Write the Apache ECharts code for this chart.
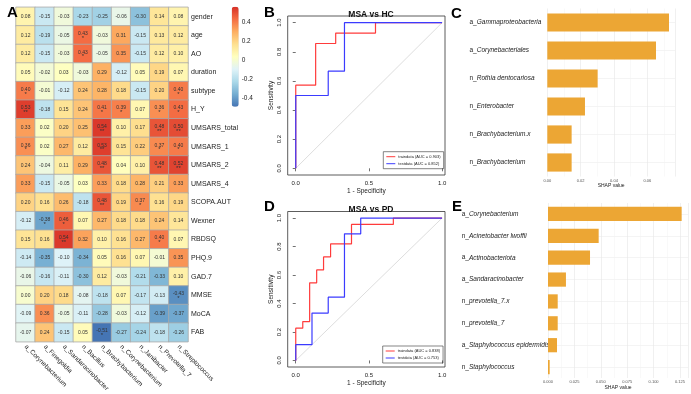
<!DOCTYPE html>
<html>
<head>
<meta charset="utf-8">
<script src="https://cdn.jsdelivr.net/npm/echarts@6/dist/echarts.min.js"></script>
<style>
html, body { margin: 0; padding: 0; background: #fff; }
#chart { width: 691px; height: 394px; }
</style>
</head>
<body>
<div id="chart"></div>
<script>
// panel A: correlation heatmap
const taxa = ["a_Corynebacterium", "a_Finegoldia", "a_Sandaracinobacter", "n_Bacillus", "n_Brachybacterium",
  "n_Corynebacterium", "n_Janibacter", "n_Prevotella_7", "n_Streptococcus"];
const clinical = ["gender", "age", "AO", "duration", "subtype", "H_Y", "UMSARS_total", "UMSARS_1", "UMSARS_2",
  "UMSARS_4", "SCOPA.AUT", "Wexner", "RBDSQ", "PHQ.9", "GAD.7", "MMSE", "MoCA", "FAB"];
const corr = [
  [0.08, -0.15, -0.03, -0.23, -0.25, -0.06, -0.30, 0.14, 0.08],
  [0.12, -0.19, -0.05, 0.43, -0.03, 0.31, -0.15, 0.13, 0.12],
  [0.12, -0.15, -0.03, 0.43, -0.05, 0.35, -0.15, 0.12, 0.10],
  [0.05, -0.02, 0.03, -0.03, 0.29, -0.12, 0.05, 0.19, 0.07],
  [0.40, -0.01, -0.12, 0.24, 0.28, 0.18, -0.15, 0.20, 0.40],
  [0.53, -0.18, 0.15, 0.24, 0.41, 0.39, 0.07, 0.36, 0.43],
  [0.33, 0.02, 0.20, 0.25, 0.54, 0.10, 0.17, 0.48, 0.50],
  [0.36, 0.02, 0.27, 0.12, 0.53, 0.15, 0.22, 0.37, 0.40],
  [0.24, -0.04, 0.11, 0.29, 0.48, 0.04, 0.10, 0.48, 0.52],
  [0.33, -0.15, -0.05, 0.03, 0.33, 0.18, 0.28, 0.21, 0.33],
  [0.20, 0.16, 0.26, -0.18, 0.48, 0.19, 0.37, 0.16, 0.19],
  [-0.12, -0.38, 0.46, 0.07, 0.27, 0.18, 0.18, 0.24, 0.14],
  [0.15, 0.16, 0.54, 0.32, 0.10, 0.16, 0.27, 0.40, 0.07],
  [-0.14, -0.35, -0.10, -0.34, 0.05, 0.16, 0.07, -0.01, 0.35],
  [-0.06, -0.16, -0.11, -0.30, 0.12, -0.03, -0.21, -0.33, 0.10],
  [0.00, 0.20, 0.18, -0.08, -0.18, 0.07, -0.17, -0.13, -0.43],
  [-0.09, 0.36, -0.05, -0.11, -0.28, -0.03, -0.12, -0.39, -0.37],
  [-0.07, 0.24, -0.15, 0.05, -0.51, -0.27, -0.24, -0.18, -0.26]
];
const sig = [
  ["", "", "", "", "", "", "", "", ""],
  ["", "", "", "*", "", "", "", "", ""],
  ["", "", "", "*", "", "", "", "", ""],
  ["", "", "", "", "", "", "", "", ""],
  ["*", "", "", "", "", "", "", "", "*"],
  ["**", "", "", "", "*", "*", "", "*", "*"],
  ["", "", "", "", "**", "", "", "**", "**"],
  ["*", "", "", "", "**", "", "", "*", "*"],
  ["", "", "", "", "**", "", "", "**", "**"],
  ["", "", "", "", "", "", "", "", ""],
  ["", "", "", "", "**", "", "*", "", ""],
  ["", "*", "*", "", "", "", "", "", ""],
  ["", "", "**", "", "", "", "", "*", ""],
  ["", "", "", "", "", "", "", "", ""],
  ["", "", "", "", "", "", "", "", ""],
  ["", "", "", "", "", "", "", "", "*"],
  ["", "", "", "", "", "", "", "", ""],
  ["", "", "", "", "*", "", "", "", ""]
];
const colorbarTicks = [-0.4, -0.2, 0, 0.2, 0.4];

// panels B / D: ROC curves (1 - specificity, sensitivity)
const hcTrainFpr = [0, 0, 0.136, 0.273, 0.545, 1];
const hcTrainTpr = [0, 0.571, 0.857, 0.929, 1, 1];
const hcTestFpr = [0, 0, 0.222, 0.333, 1];
const hcTestTpr = [0, 0.5, 0.667, 1, 1];
const pdTrainFpr = [0, 0, 0.048, 0.095, 0.143, 0.190, 0.238, 0.381, 0.667, 1];
const pdTrainTpr = [0, 0.227, 0.273, 0.545, 0.636, 0.727, 0.818, 0.955, 1, 1];
const pdTestFpr = [0, 0, 0.111, 0.222, 0.333, 0.444, 1];
const pdTestTpr = [0, 0.111, 0.333, 0.444, 0.889, 1, 1];
const rocNames = ["traindata (AUC = 0.903)", "testdata (AUC = 0.852)", "traindata (AUC = 0.838)", "testdata (AUC = 0.753)"];
const rocXTicks = [0, 0.5, 1];
const rocYTicks = [0, 0.2, 0.4, 0.6, 0.8, 1];

// panels C / E: SHAP importance
const shapHcNames = ["a_Gammaproteobacteria", "a_Corynebacteriales", "n_Rothia dentocariosa", "n_Enterobacter",
  "n_Brachybacterium.x", "n_Brachybacterium"];
const shapHcValues = [0.0730, 0.0652, 0.0302, 0.0226, 0.0146, 0.0146];
const shapPdNames = ["a_Corynebacterium", "n_Acinetobacter lwoffii", "a_Actinobacteriota", "a_Sandaracinobacter",
  "n_prevotella_7.x", "n_prevotella_7", "a_Staphylococcus epidermidis", "n_Staphylococcus"];
const shapPdValues = [0.1266, 0.0480, 0.0398, 0.0170, 0.0092, 0.0092, 0.0085, 0.0016];

const chart = echarts.init(document.getElementById("chart"));
const FONT = "Liberation Sans, Arial, sans-serif";
const RED = "#ff3b3b";
const BLUE = "#3b3bff";
const BAR = "#eca634";

const heatData = [];
corr.forEach((row, r) => row.forEach((v, c) => heatData.push([c, r, v])));

const zip = (xs, ys) => xs.map((x, i) => [x, ys[i]]);

function rocXAxis(gridIndex) {
  return {
    gridIndex, type: "value", min: -0.055, max: 1.02,
    name: "1 - Specificity", nameLocation: "middle", nameGap: 13,
    nameTextStyle: { fontSize: 6.5, color: "#222" },
    axisLine: { show: false },
    axisTick: { show: true, length: 3, customValues: rocXTicks, lineStyle: { color: "#333", width: 0.7 } },
    axisLabel: { customValues: rocXTicks, fontSize: 6, color: "#222", margin: 5, formatter: v => v.toFixed(1) },
    splitLine: { show: false }
  };
}
function rocYAxis(gridIndex) {
  return {
    gridIndex, type: "value", min: -0.046, max: 1.046,
    name: "Sensitivity", nameLocation: "middle", nameGap: 13,
    nameTextStyle: { fontSize: 6.5, color: "#222" },
    axisLine: { show: false },
    axisTick: { show: true, length: 3, customValues: rocYTicks, lineStyle: { color: "#333", width: 0.7 } },
    axisLabel: { customValues: rocYTicks, fontSize: 6, color: "#222", margin: 5, rotate: 90, formatter: v => v.toFixed(1) },
    splitLine: { show: false }
  };
}
function rocSeries(axisIndex, names, trainPts, testPts) {
  return [
    { type: "line", xAxisIndex: axisIndex, yAxisIndex: axisIndex, data: [[0, 0], [1, 1]], symbol: "none",
      silent: true, lineStyle: { color: "#d4d4d4", width: 0.8 } },
    { name: names[0], type: "line", xAxisIndex: axisIndex, yAxisIndex: axisIndex, data: trainPts, step: "end",
      symbol: "none", color: RED, lineStyle: { color: RED, width: 1.2 } },
    { name: names[1], type: "line", xAxisIndex: axisIndex, yAxisIndex: axisIndex, data: testPts, step: "end",
      symbol: "none", color: BLUE, lineStyle: { color: BLUE, width: 1.2 } }
  ];
}
function rocLegend(names, left, top) {
  return {
    data: names, left, top, orient: "vertical", padding: [3, 3, 3, 3], itemGap: 3,
    icon: "rect", itemWidth: 9, itemHeight: 1, borderColor: "#333", borderWidth: 0.6,
    textStyle: { fontSize: 4, color: "#222", padding: [0, 0, 0, -2] }, selectedMode: false
  };
}
function taxonLabel(name) {
  const i = name.indexOf("_");
  return "{p|" + name.slice(0, i + 1) + "}{i|" + name.slice(i + 1) + "}";
}
function shapYAxis(gridIndex, names, margin, size) {
  return {
    gridIndex, type: "category", data: names, inverse: true,
    axisLine: { show: false }, axisTick: { show: false, alignWithLabel: true },
    axisLabel: {
      align: "left", margin, formatter: taxonLabel,
      rich: { p: { fontSize: size, color: "#222" }, i: { fontSize: size, color: "#222", fontStyle: "italic" } }
    },
    splitLine: { show: true, alignWithLabel: true, lineStyle: { color: "#ececec", width: 0.6 } }
  };
}
function shapXAxis(gridIndex, max, interval, digits) {
  return {
    gridIndex, type: "value", min: 0, max, interval,
    name: "SHAP value", nameLocation: "middle", nameGap: 7,
    nameTextStyle: { fontSize: 5, color: "#222" },
    axisLine: { show: false }, axisTick: { show: false },
    axisLabel: { fontSize: 4, color: "#555", margin: 2, showMaxLabel: false, formatter: v => v.toFixed(digits) },
    splitLine: { show: true, lineStyle: { color: "#e6e6e6", width: 0.6 } },
    minorTick: { show: false, splitNumber: 2 },
    minorSplitLine: { show: true, lineStyle: { color: "#f2f2f2", width: 0.5 } }
  };
}

const option = {
  animation: false,
  backgroundColor: "#fff",
  textStyle: { fontFamily: FONT },
  title: [
    { text: "A", left: 2, top: 0, textStyle: { fontSize: 15, fontWeight: "bold", color: "#000" } },
    { text: "B", left: 259, top: 0, textStyle: { fontSize: 15, fontWeight: "bold", color: "#000" } },
    { text: "C", left: 446, top: 1, textStyle: { fontSize: 15, fontWeight: "bold", color: "#000" } },
    { text: "D", left: 259, top: 194, textStyle: { fontSize: 15, fontWeight: "bold", color: "#000" } },
    { text: "E", left: 447, top: 194, textStyle: { fontSize: 15, fontWeight: "bold", color: "#000" } },
    { text: "MSA vs HC", left: 366, top: 5, textAlign: "center", textStyle: { fontSize: 8.5, fontWeight: "bold", color: "#111" } },
    { text: "MSA vs PD", left: 366, top: 200, textAlign: "center", textStyle: { fontSize: 8.5, fontWeight: "bold", color: "#111" } }
  ],
  grid: [
    { left: 16, top: 7.3, width: 172, height: 334.4 },
    { left: 287.7, top: 16, width: 157.3, height: 159, show: true, borderColor: "#333", borderWidth: 0.8, backgroundColor: "transparent" },
    { left: 287.7, top: 211.5, width: 157.3, height: 155.5, show: true, borderColor: "#333", borderWidth: 0.8, backgroundColor: "transparent" },
    { left: 547.3, top: 8.5, width: 127.7, height: 168 },
    { left: 548, top: 203, width: 140, height: 175 },
    { left: 231.7, top: 6.7, width: 7, height: 100 }
  ],
  xAxis: [
    {
      gridIndex: 0, type: "category", data: taxa, position: "bottom",
      axisLine: { show: false }, axisTick: { show: false }, splitLine: { show: false },
      axisLabel: { rotate: -45, fontSize: 6.5, color: "#222", margin: 4, interval: 0 }
    },
    rocXAxis(1),
    rocXAxis(2),
    shapXAxis(3, 0.0766, 0.02, 2),
    shapXAxis(4, 0.1326, 0.025, 3),
    { gridIndex: 5, type: "value", show: false }
  ],
  yAxis: [
    {
      gridIndex: 0, type: "category", data: clinical, inverse: true, position: "right",
      axisLine: { show: false }, axisTick: { show: false }, splitLine: { show: false },
      axisLabel: { fontSize: 7, color: "#222", margin: 3, interval: 0 }
    },
    rocYAxis(1),
    rocYAxis(2),
    shapYAxis(3, shapHcNames, 77.8, 6.5),
    shapYAxis(4, shapPdNames, 86.3, 6.5),
    {
      gridIndex: 5, type: "value", position: "right", min: -0.49, max: 0.56,
      axisLine: { show: false }, axisTick: { show: false }, splitLine: { show: false },
      axisLabel: { customValues: colorbarTicks, fontSize: 6.5, color: "#222", margin: 3, formatter: v => String(v) }
    }
  ],
  visualMap: {
    type: "continuous", seriesIndex: 0, min: -0.49, max: 0.56, calculable: false, hoverLink: false,
    left: 231.7, top: 6.7, itemWidth: 7, itemHeight: 100, padding: 0,
    inRange: { color: ["#4575b4", "#74add1", "#abd9e9", "#e0f3f8", "#ffffbf", "#fee090", "#fdae61", "#f46d43", "#d73027"] }
  },
  legend: [
    rocLegend(rocNames.slice(0, 2), 383.3, 151.7),
    rocLegend(rocNames.slice(2, 4), 382.7, 346)
  ],
  series: [
    {
      type: "heatmap", xAxisIndex: 0, yAxisIndex: 0, data: heatData,
      itemStyle: { borderColor: "#a8a8a8", borderWidth: 0.8 },
      label: {
        show: true,
        formatter: p => {
          const v = p.value[2].toFixed(2);
          const s = sig[p.value[1]][p.value[0]];
          return s ? "{v|" + v + "}\n{s|" + s + "}" : "{v|" + v + "}";
        },
        rich: {
          v: { fontSize: 5, lineHeight: 6, color: "#333" },
          s: { fontSize: 6, lineHeight: 3, color: "#333" }
        }
      }
    },
    ...rocSeries(1, rocNames.slice(0, 2), zip(hcTrainFpr, hcTrainTpr), zip(hcTestFpr, hcTestTpr)),
    ...rocSeries(2, rocNames.slice(2, 4), zip(pdTrainFpr, pdTrainTpr), zip(pdTestFpr, pdTestTpr)),
    { type: "bar", xAxisIndex: 3, yAxisIndex: 3, data: shapHcValues, barCategoryGap: "35%", itemStyle: { color: BAR } },
    { type: "bar", xAxisIndex: 4, yAxisIndex: 4, data: shapPdValues, barCategoryGap: "35%", itemStyle: { color: BAR } }
  ]
};

chart.setOption(option);
</script>
</body>
</html>
